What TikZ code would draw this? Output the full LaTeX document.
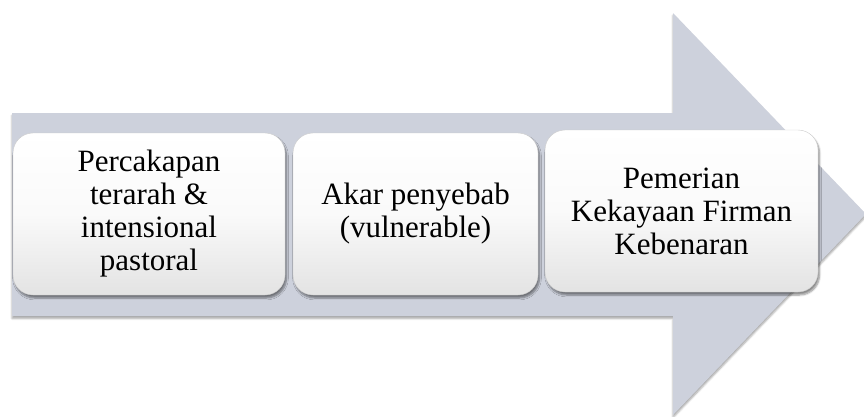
\documentclass[tikz,border=0pt]{standalone}
\usepackage{fontspec}
\setmainfont{Liberation Serif}
\usetikzlibrary{shadows.blur}
\definecolor{arrowgray}{RGB}{205,209,220}
\tikzset{
  stepbox/.style={rectangle, rounded corners=20pt, draw=gray!40, line width=0.4pt,
    top color=white, bottom color=gray!22, middle color=white!96!gray,
    align=center, inner sep=2pt,
    font=\fontsize{31}{33}\selectfont, text=black,
    blur shadow={shadow xshift=1.5pt, shadow yshift=-3pt, shadow blur steps=6, shadow opacity=45}},
  bigarrow/.style={fill=arrowgray, draw=none,
    blur shadow={shadow xshift=0pt, shadow yshift=-2.5pt, shadow blur steps=4, shadow opacity=35}}
}
\begin{document}
\begin{tikzpicture}[x=1pt,y=-1pt]
\useasboundingbox (0,0) rectangle (864,416);
\coordinate (a1) at (12,113);
\coordinate (a2) at (673,113);
\coordinate (a3) at (673,13);
\coordinate (a4) at (866,214);
\coordinate (a5) at (673,415);
\coordinate (a6) at (673,316);
\coordinate (a7) at (12,316);
\path[bigarrow] (a1) -- (a2) -- (a3) -- (a4) -- (a5) -- (a6) -- (a7) -- cycle;
\node[stepbox, minimum width=272pt, minimum height=162pt] (b1) at (149,214)
  {Percakapan\\terarah \&\\intensional\\pastoral};
\node[stepbox, minimum width=245pt, minimum height=162pt] (b2) at (415.5,214)
  {Akar penyebab\\(vulnerable)};
\node[stepbox, minimum width=273pt, minimum height=162pt] (b3) at (681.5,211)
  {Pemerian\\Kekayaan Firman\\Kebenaran};
\end{tikzpicture}
\end{document}
